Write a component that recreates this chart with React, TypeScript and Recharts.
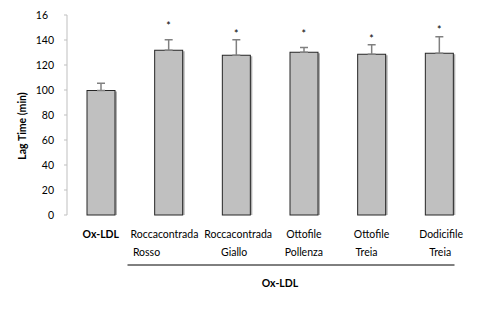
import { BarChart, Bar, XAxis, YAxis, ErrorBar, Line, LabelList } from 'recharts';

// category labels (two lines) and group title
const cultivars = ['Ox-LDL', 'Roccacontrada', 'Roccacontrada', 'Ottofile', 'Ottofile', 'Dodicifile'];
const origins = ['', 'Rosso', 'Giallo', 'Pollenza', 'Treia', 'Treia'];
const groupTitle = 'Ox-LDL';

// lag time (min), mean and upper SD
const lagTime = [99.6, 131.8, 127.8, 130.2, 128.6, 129.4];
const lagErr = [5.8, 8.4, 12.4, 3.8, 7.6, 13.2];

// significance marks and the height they sit at
const marks = ['', '*', '*', '*', '*', '*'];
const markAt = [null, 153.4, 147.4, 147.4, 143.2, 150.6];

const yTicks = [0, 20, 40, 60, 80, 100, 120, 140, 160];
const yTickLabels = ['0', '20', '40', '60', '80', '100', '120', '140', '16'];
const boundaries = [0, 1, 2, 3, 4, 5, 6];

const data = cultivars.map((c, i) => ({
  name: `${c} ${origins[i]}`.trim() + '#' + i,
  lag: lagTime[i],
  err: [0, lagErr[i]],
  markAt: markAt[i],
  mark: marks[i],
}));

const FONT = 'Lato, "Liberation Sans", sans-serif';
const FS = 10.5;
const AXIS = '#bfbfbf';

// hand-placed label nudges as in the original figure
const line1Shift = [0, -4, 2, 0, 0, 2];
const line2Shift = [0, -22, -2, 0, -5, 1];

const BarShape = (props: any) => {
  const { x, y, width, height } = props;
  return (
    <g>
      <rect x={x + 2} y={y + 1} width={width} height={height - 1} fill="#b0b0b0" />
      <rect x={x} y={y} width={width} height={height} fill="#c0c0c0" stroke="#262626" strokeWidth={1} />
    </g>
  );
};

const YTick = (props: any) => {
  const { x, y, index } = props;
  const label = yTickLabels[index];
  return (
    <text x={x} y={y} dy={4} dx={label === '16' ? -6 : 0} textAnchor="end" fontSize={FS} fill="#000" fontFamily={FONT}>
      {label}
    </text>
  );
};

const CatTick = (props: any) => {
  const { x, y, index } = props;
  const first = index === 0;
  return (
    <g>
      <text x={x + line1Shift[index]} y={y + 23} textAnchor="middle" fontSize={FS} fontWeight={first ? 700 : 400} fill="#000" fontFamily={FONT}>
        {cultivars[index]}
      </text>
      {origins[index] && (
        <text x={x + line2Shift[index]} y={y + 41} textAnchor="middle" fontSize={FS} fill="#000" fontFamily={FONT}>
          {origins[index]}
        </text>
      )}
      {index === 1 && <line x1={x - 41} x2={x + 286} y1={y + 50} y2={y + 50} stroke="#000" strokeWidth={1} />}
    </g>
  );
};

const YLabel = (props: any) => {
  const { viewBox } = props;
  const cy = viewBox.y + viewBox.height / 2 + 11;
  return (
    <text x={22} y={cy} transform={`rotate(-90, 22, ${cy})`} textAnchor="middle" dominantBaseline="central" fontSize={FS} fontWeight={700} fill="#000" fontFamily={FONT}>
      Lag Time (min)
    </text>
  );
};

const Star = (props: any) => {
  const { x, y, value } = props;
  if (!value || y == null) return null;
  return (
    <text x={x} y={y + 7} textAnchor="middle" fontSize={FS} fill="#000" fontFamily={FONT}>
      {value}
    </text>
  );
};

const Empty = () => <g />;

export default function App() {
  return (
    <div style={{ position: 'absolute', left: 0, top: 0, width: 500, height: 311, background: '#fff' }}>
      <BarChart width={500} height={311} data={data} margin={{ top: 15, right: 27, bottom: 0, left: 0 }}>
        <XAxis
          xAxisId="grid"
          type="number"
          domain={[0, 6]}
          ticks={boundaries}
          height={0}
          axisLine={{ stroke: AXIS }}
          tickLine={{ stroke: AXIS }}
          tickSize={4}
          tick={Empty}
        />
        <XAxis
          xAxisId="cat"
          dataKey="name"
          height={96}
          axisLine={false}
          tickLine={false}
          tickSize={0}
          tickMargin={0}
          interval={0}
          tick={CatTick}
          label={{ value: groupTitle, position: 'insideBottom', offset: 24, dx: 10, fontSize: FS, fontWeight: 700, fill: '#000', fontFamily: FONT }}
        />
        <YAxis
          domain={[0, 160]}
          ticks={yTicks}
          width={67}
          axisLine={{ stroke: AXIS }}
          tickLine={{ stroke: AXIS }}
          tickSize={3}
          tickMargin={10}
          interval={0}
          tick={YTick}
          label={<YLabel />}
        />
        <Bar xAxisId="cat" dataKey="lag" barSize={28} shape={BarShape} isAnimationActive={false}>
          <ErrorBar dataKey="err" direction="y" width={4} stroke="#808080" strokeWidth={1.5} />
        </Bar>
        <Line
          xAxisId="cat"
          dataKey="markAt"
          stroke="none"
          dot={false}
          activeDot={false}
          isAnimationActive={false}
        >
          <LabelList dataKey="mark" content={Star} />
        </Line>
      </BarChart>
    </div>
  );
}
